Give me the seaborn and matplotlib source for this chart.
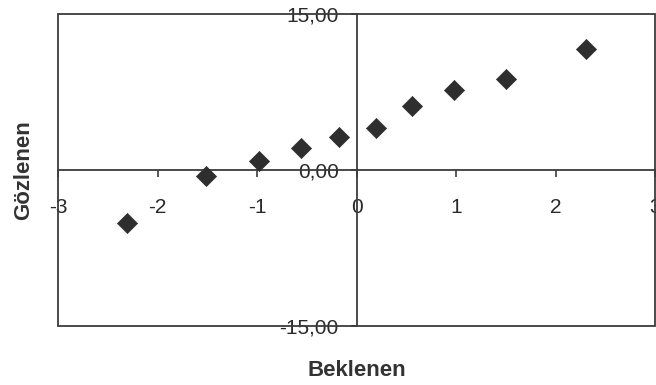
import matplotlib
matplotlib.use("Agg")
import matplotlib.pyplot as plt
import seaborn as sns
from matplotlib.patches import Rectangle

# expected (normal scores) vs observed values
beklenen = [-2.31, -1.51, -0.98, -0.56, -0.18, 0.19, 0.56, 0.98, 1.50, 2.30]
gozlenen = [-5.1, -0.58, 0.87, 2.1, 3.2, 4.0, 6.15, 7.7, 8.75, 11.6]
x_ticks = [-3, -2, -1, 0, 1, 2, 3]
y_ticks = [-15, 0, 15]
y_tick_labels = ["-15,00", "0,00", "15,00"]

sns.set_style("white")
plt.rcParams['font.family'] = ['Liberation Sans', 'DejaVu Sans']

line_col = "#3c3c3c"
fig = plt.figure(figsize=(6.56, 3.85), dpi=100)
ax = fig.add_axes([0.0884, 0.154, 0.9106, 0.81])

sns.scatterplot(x=beklenen, y=gozlenen, marker="D", s=105, color="#2e2e2e",
                edgecolor="#2e2e2e", linewidth=0.5, ax=ax, zorder=3)

ax.set_xlim(-3, 3)
ax.set_ylim(-15, 15)

# axes cross in the middle, like the Excel chart
for side in ["top", "right"]:
    ax.spines[side].set_visible(False)
ax.spines["left"].set_position(("data", 0))
ax.spines["bottom"].set_position(("data", 0))
for side in ["left", "bottom"]:
    ax.spines[side].set_color(line_col)
    ax.spines[side].set_linewidth(1.3)

# outer frame of the plot area
ax.add_patch(Rectangle((0, 0), 1, 1, transform=ax.transAxes, fill=False,
                       ec=line_col, lw=1.3, clip_on=False, zorder=1))

ax.set_xticks(x_ticks)
ax.set_xticklabels([str(t) for t in x_ticks])
ax.set_yticks(y_ticks)
ax.set_yticklabels(y_tick_labels)
ax.tick_params(axis="x", direction="out", length=5, width=1.2, color=line_col,
               pad=15, labelsize=15, labelcolor="#2a2a2a")
ax.tick_params(axis="y", direction="out", length=4, width=1.2, color=line_col,
               pad=9, labelsize=15, labelcolor="#2a2a2a")
ax.yaxis.set_ticks_position("left")
ax.xaxis.set_ticks_position("bottom")

ax.set_xlabel("Beklenen", fontsize=16, fontweight="bold", color="#333333")
ax.set_ylabel("Gözlenen", fontsize=16, fontweight="bold", color="#333333")
ax.xaxis.set_label_coords(0.5, -0.11)
ax.yaxis.set_label_coords(-0.04, 0.5)

fig.savefig("out.png", dpi=100)
